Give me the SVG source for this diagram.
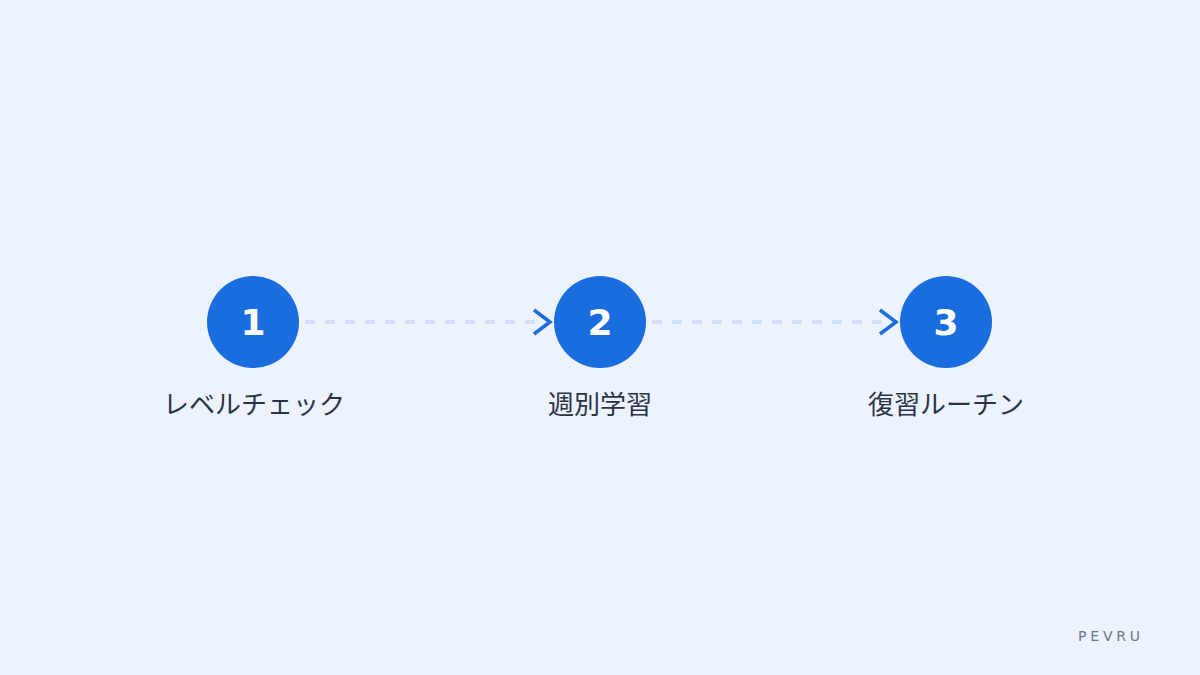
<svg xmlns="http://www.w3.org/2000/svg" width="1200" height="675" viewBox="0 0 1200 675">
<style>
.step{fill:#1a6ddf}
.num{font-family:"DejaVu Sans","Noto Sans",sans-serif;font-weight:bold;font-size:36px;fill:#ffffff;text-anchor:middle}
.lbl{font-family:"Noto Sans CJK JP","Noto Sans",sans-serif;font-size:26px;fill:#2a3446;text-anchor:middle}
.dash{stroke:#d2dff5;stroke-width:4;stroke-dasharray:10 10;fill:none}
.chev{stroke:#1a6ddf;stroke-width:3.5;fill:none;stroke-linecap:butt;stroke-linejoin:miter}
.brand{font-family:"DejaVu Sans","Noto Sans",sans-serif;font-size:14px;fill:#6b7587;letter-spacing:3.8px}
</style>
<rect width="1200" height="675" fill="#edf3fe"/>
<g id="connectors">
<line class="dash" x1="305" y1="322" x2="535" y2="322"/>
<polyline class="chev" points="534,310 550,322 534,334"/>
<line class="dash" x1="652" y1="322" x2="882" y2="322"/>
<polyline class="chev" points="880,310 896,322 880,334"/>
</g>
<g id="node1">
<circle class="step" cx="253" cy="322" r="46"/>
<text class="num" x="253" y="335">1</text>
<text class="lbl" x="254" y="414">レベルチェック</text>
</g>
<g id="node2">
<circle class="step" cx="600" cy="322" r="46"/>
<text class="num" x="600" y="335">2</text>
<text class="lbl" x="600" y="414">週別学習</text>
</g>
<g id="node3">
<circle class="step" cx="946" cy="322" r="46"/>
<text class="num" x="946" y="335">3</text>
<text class="lbl" x="946" y="414">復習ルーチン</text>
</g>
<text class="brand" x="1078" y="641">PEVRU</text>
</svg>
